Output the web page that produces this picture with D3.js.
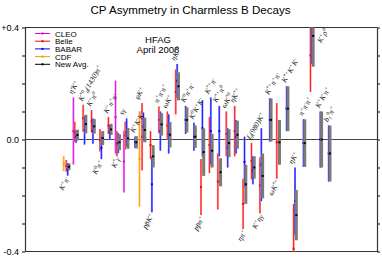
<!DOCTYPE html>
<html><head><meta charset="utf-8">
<script src="https://cdn.jsdelivr.net/npm/d3@7/dist/d3.min.js"></script>
<style>body{margin:0;background:#fff}</style>
</head><body><svg id="c" width="382" height="258"></svg>
<script>
// ---------------- data ----------------
const modes = ["K^+π^-","η'K^+","K^{*0}_0(1430)π^+","K^+π^0","K^0π^+","K^+π^+π^-","K^*γ","sγ",
  "K^+K^-K^+","φK^+","pp̄K^+","π^+π^-π^+","ωK^+","ηK^{*0}","K^0π^+π^-","K^0K^+K^-",
  "pp̄π^+","K^{*+}π^-","K^{*+}π^0","ωK^{*0}","ηK^{*+}","ηπ^+","f_0(980)K^+","K^+ηγ",
  "K^{*+}π^+π^-","ωK^{*+}","K^{*+}K^+K^-","ηK^+","π^+π^-π^+","K^+ρ^0","K^+K^-π^+","b_1^0π^+"];
const labelSide = ["b","a","a","a","b","a","b","a","a","a","b","a","a","a","a","a",
  "b","a","a","a","a","b","a","b","a","b","a","a","a","a","a","a"];
// each entry: [value, error below, error above] or null
const cleo = [null,[0.03,0.12,0.12],null,null,null,null,[0.08,0.13,0.13],[-0.079,0.11,0.11],
  null,null,null,null,null,null,null,null,null,null,null,null,null,null,null,null,
  null,null,null,null,null,null,null,null];
const belle = [[-0.094,0.021,0.021],[0.028,0.035,0.035],[0.076,0.048,0.048],[0.065,0.04,0.04],
  [-0.003,0.04,0.04],[0.05,0.03,0.03],[-0.015,0.045,0.045],[0.014,0.05,0.05],
  null,[0.01,0.12,0.12],[-0.02,0.05,0.05],[0.07,0.048,0.048],[0.05,0.05,0.05],[0.17,0.08,0.08],
  null,null,[-0.17,0.1,0.1],[-0.02,0.1,0.1],[-0.15,0.1,0.1],[0.02,0.08,0.08],[0.03,0.09,0.09],
  [-0.23,0.09,0.09],[-0.077,0.065,0.065],[-0.164,0.1,0.1],null,[-0.01,0.13,0.14],null,
  [-0.39,0.16,0.16],null,[0.30,0.13,0.13],null,null];
const babar = [[-0.107,0.022,0.022],[0.01,0.022,0.022],[0.032,0.05,0.05],[0.03,0.045,0.045],
  [-0.03,0.04,0.04],[0.025,0.027,0.027],[-0.013,0.036,0.036],[0.025,0.05,0.05],
  [-0.01,0.02,0.02],[0.046,0.05,0.05],[-0.16,0.1,0.1],[0.03,0.07,0.07],[0.02,0.07,0.07],[0.21,0.06,0.06],
  [0.07,0.05,0.05],[0.01,0.05,0.05],[0.04,0.1,0.1],[0.03,0.12,0.12],[0.03,0.09,0.09],[-0.03,0.07,0.07],
  [0.01,0.06,0.06],[-0.08,0.09,0.09],[-0.11,0.05,0.05],[-0.09,0.13,0.13],[0.07,0.077,0.077],null,
  [0.11,0.08,0.08],[-0.22,0.12,0.12],[-0.013,0.085,0.085],[0.44,0.17,0.1],[0.0,0.1,0.1],[-0.05,0.1,0.1]];
const cdf = [[-0.086,0.027,0.027],null,null,null,null,null,null,null,null,[-0.07,0.17,0.17],
  null,null,null,null,null,null,null,null,null,null,null,null,null,null,
  null,null,null,null,null,null,null,null];
const newAvg = [[-0.097,0.012,0.012],[0.016,0.019,0.019],[0.055,0.033,0.033],[0.047,0.026,0.026],
  [0.005,0.025,0.025],[0.036,0.02,0.02],[-0.01,0.028,0.028],[0.004,0.037,0.037],
  [-0.01,0.022,0.022],[0.034,0.044,0.044],[-0.06,0.04,0.04],[0.054,0.04,0.04],[0.017,0.045,0.045],[0.19,0.05,0.05],
  [0.07,0.045,0.045],[0.01,0.04,0.04],[-0.045,0.085,0.085],[-0.04,0.06,0.06],[-0.117,0.05,0.05],[-0.013,0.05,0.05],
  [0.017,0.05,0.05],[-0.16,0.07,0.07],[-0.1,0.04,0.04],[-0.13,0.08,0.08],[0.07,0.077,0.077],[-0.01,0.08,0.08],
  [0.11,0.08,0.08],[-0.27,0.09,0.09],[-0.013,0.085,0.085],[0.37,0.11,0.1],[0.0,0.1,0.1],[-0.05,0.1,0.1]];
const yTicks = [-0.4,-0.3,-0.2,-0.1,0,0.1,0.2,0.3,0.4];
const yTickLabels = ["-0.4","","","","0.0","","","","+0.4"];
const legendNames = ["CLEO","Belle","BABAR","CDF","New Avg."];
const title = "CP Asymmetry in Charmless B Decays";
const stamp = ["HFAG","April 2008"];

// ---------------- drawing ----------------
const svg = d3.select("#c");
const L = 25, R = 377, T = 27.5, B = 251.5;
const y = d3.scaleLinear().domain([-0.4,0.4]).range([B,T]);
const x = d3.scalePoint().domain(d3.range(modes.length)).range([69,330]);
const sans = "Liberation Sans, Arial, sans-serif";

const series = [
  {name:"CLEO", data:cleo, dx:-4, col:"#e000e0", light:"#f080f0"},
  {name:"CDF", data:cdf, dx:-5.3, col:"#ff9900", light:"#ffc870"},
  {name:"Belle", data:belle, dx:-2.7, col:"#ff0000", light:"#ff9090"},
  {name:"BABAR", data:babar, dx:-1.3, col:"#0000ff", light:"#8888ff"},
];
const legendCols = {"CLEO":"#e000e0","Belle":"#ff0000","BABAR":"#0000ff","CDF":"#ff9900","New Avg.":"#000"};

svg.append("defs").append("clipPath").attr("id","pc")
  .append("rect").attr("x",L).attr("y",T).attr("width",R-L).attr("height",B-T);

svg.append("text").attr("x",190.5).attr("y",14).attr("text-anchor","middle")
  .attr("font-family",sans).attr("font-size",11.6).text(title);

// axes
const fmt = d => { const i = yTicks.findIndex(t => Math.abs(t-d)<1e-9); return yTickLabels[i]; };
const gl = svg.append("g").attr("transform",`translate(${L},0)`)
  .call(d3.axisLeft(y).tickValues(yTicks).tickSize(3).tickSizeOuter(0).tickFormat(fmt));
const gr = svg.append("g").attr("transform",`translate(${R},0)`)
  .call(d3.axisRight(y).tickValues(yTicks).tickSize(3).tickSizeOuter(0).tickFormat(""));
[gl,gr].forEach(g=>{
  g.selectAll("path,line").attr("stroke","#333").attr("stroke-width",1.2);
  g.selectAll("text").attr("font-family",sans).attr("font-size",9).attr("fill","#000");
});
svg.append("line").attr("x1",L).attr("x2",R).attr("y1",T).attr("y2",T).attr("stroke","#333").attr("stroke-width",1.2);
svg.append("line").attr("x1",L).attr("x2",R).attr("y1",B).attr("y2",B).attr("stroke","#333").attr("stroke-width",1.2);
svg.append("line").attr("x1",L).attr("x2",R).attr("y1",y(0)).attr("y2",y(0)).attr("stroke","#444").attr("stroke-width",1);

// stamp
svg.selectAll("text.stamp").data(stamp).join("text").attr("class","stamp")
  .attr("x",158).attr("y",(d,i)=>42.5+i*10).attr("text-anchor","middle")
  .attr("font-family",sans).attr("font-size",9.5).text(d=>d);

// legend
const lg = svg.append("g");
legendNames.forEach((n,i)=>{
  const yy = 33.5 + i*7.7;
  lg.append("line").attr("x1",35).attr("x2",50).attr("y1",yy).attr("y2",yy).attr("stroke",legendCols[n]).attr("stroke-width",1);
  lg.append("rect").attr("x",41.5).attr("y",yy-1).attr("width",2).attr("height",2).attr("fill",legendCols[n]);
  lg.append("text").attr("x",55).attr("y",yy+3).attr("font-family",sans)
    .attr("font-size",8).text(n);
});

// bars
const plot = svg.append("g").attr("clip-path","url(#pc)");
series.forEach(s=>{
  s.data.forEach((d,i)=>{
    if(!d) return;
    const cx = x(i)+s.dx;
    const y1 = y(d[0]+d[2]), y2 = y(d[0]-d[1]);
    plot.append("rect").attr("x",cx-1).attr("y",y1).attr("width",2).attr("height",y2-y1).attr("fill",s.light);
    plot.append("rect").attr("x",cx-0.5).attr("y",y1).attr("width",1).attr("height",y2-y1).attr("fill",s.col).attr("opacity",0.8);
    plot.append("rect").attr("x",cx-1).attr("y",y(d[0])-1).attr("width",2).attr("height",2).attr("fill",s.col);
  });
});
newAvg.forEach((d,i)=>{
  if(!d) return;
  const cx = x(i);
  const y1 = y(d[0]+d[2]), y2 = y(d[0]-d[1]);
  plot.append("rect").attr("x",cx-1.5).attr("y",y1).attr("width",3).attr("height",y2-y1).attr("fill","#7a7a7a");
  plot.append("rect").attr("x",cx-1).attr("y",y(d[0])-1).attr("width",2).attr("height",2).attr("fill","#000");
});

// labels
function parseLabel(s){
  const out=[]; let i=0;
  while(i<s.length){
    const c=s[i];
    if(c==='^'||c==='_'){
      let t;
      if(s[i+1]==='{'){ const j=s.indexOf('}',i); t=s.slice(i+2,j); i=j+1; }
      else { t=s[i+1]; i+=2; }
      out.push({t,k:c==='^'?'sup':'sub'});
    } else {
      let j=i; while(j<s.length && s[j]!=='^' && s[j]!=='_') j++;
      out.push({t:s.slice(i,j),k:'n'}); i=j;
    }
  }
  return out;
}
const allSeries = [cleo,cdf,belle,babar,newAvg];
modes.forEach((m,i)=>{
  const vals = allSeries.map(a=>a[i]).filter(Boolean);
  const hi = d3.max(vals,d=>d[0]+d[2]), lo = d3.min(vals,d=>d[0]-d[1]);
  const xs = series.filter(s=>s.data[i]).map(s=>x(i)+s.dx).concat([x(i)]);
  let px, py, anchor;
  if(labelSide[i]==="a"){
    px = d3.min(xs)-1; py = y(hi)-3; anchor="start";
    if(py < T+16){ py = T+16; px = x(i)+8; }
  } else {
    px = d3.max(xs)+1; py = y(lo)+3; anchor="end";
  }
  const t = svg.append("text").attr("transform",`translate(${px},${py}) rotate(-60)`)
    .attr("text-anchor",anchor).attr("font-family","Liberation Serif, Times New Roman, serif")
    .attr("font-style","italic").attr("font-size",7.5).attr("fill","#111");
  let off=0;
  parseLabel(m).forEach(p=>{
    const target = p.k==='sup'?-2.8:(p.k==='sub'?1.7:0);
    t.append("tspan").attr("dy",target-off).attr("font-size",p.k==='n'?7.5:5.2).text(p.t);
    off=target;
  });
});
</script></body></html>
